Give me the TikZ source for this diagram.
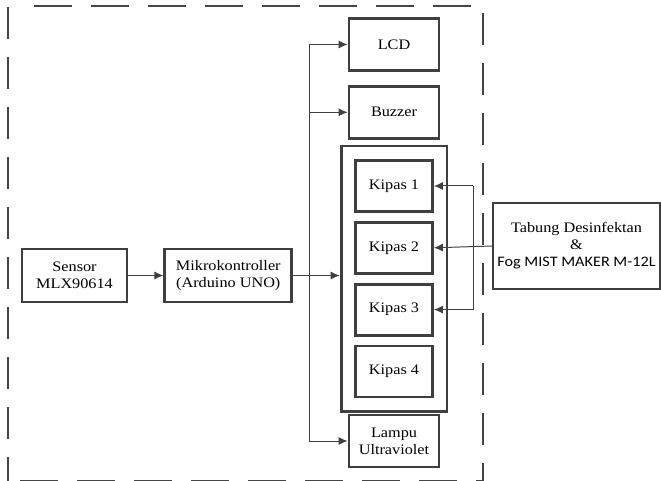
\documentclass[tikz,border=0pt]{standalone}
\usepackage{fontspec}
\setmainfont{Liberation Serif}[FakeStretch=1.12]
\newfontfamily\fogfont{Carlito}[FakeStretch=1.12]
\usetikzlibrary{
	positioning,
	arrows.meta,
	fit
}
\definecolor{boxcolor}{HTML}{3F3F3F}
\definecolor{linecolor}{HTML}{404040}
\definecolor{framecolor}{HTML}{454545}
\tikzset{
	blockbox/.style={
		draw=boxcolor,
		line width=2.8pt,
		minimum width=90pt,
		minimum height=52pt,
		inner sep=2pt,
		align=center,
		font=\fontsize{14.5}{17}\selectfont
	},
	kipasbox/.style={
		blockbox,
		minimum width=77pt,
		minimum height=51pt
	},
	groupbox/.style={
		draw=boxcolor,
		line width=2.8pt,
		inner sep=13pt
	},
	arrow/.style={
		-{Latex[length=9pt,width=8pt]},
		color=linecolor,
		line width=1pt
	},
	plainline/.style={
		color=linecolor,
		line width=1pt
	},
	framehoriz/.style={
		draw=framecolor,
		line width=2pt,
		dash pattern=on 38pt off 19pt
	},
	framevert/.style={
		draw=framecolor,
		line width=2pt,
		dash pattern=on 32pt off 18pt
	}
}

\begin{document}
\begin{tikzpicture}[x=1pt,y=-1pt,node distance=8pt and 35pt]
		\useasboundingbox (0,0) rectangle (661,481);
		
		% Frame of the system
		\draw[framehoriz] (34,6) -- (472,6);
		\draw[framevert] (8,7) -- (8,481);
		\draw[framevert] (483,13) -- (483,481);
		\draw[framehoriz] (20,480.5) -- (483,480.5);
		
		% Nodes
		% Left side: input
		\node[blockbox, minimum width=105pt, minimum height=53pt] (sensor) at (74.5,275.5)
		{Sensor\\MLX90614};
		\node[blockbox, minimum width=127pt, minimum height=53pt, right=of sensor] (mikro)
		{Mikrokontroller\\(Arduino UNO)};
		
		% Middle column: outputs
		\node[blockbox] (lcd) at (394,44.5) {LCD};
		\node[blockbox, below=13pt of lcd] (buzzer) {Buzzer};
		
		\node[kipasbox] (kipas1) at (394,186) {Kipas 1};
		\node[kipasbox, below=of kipas1] (kipas2) {Kipas 2};
		\node[kipasbox, below=of kipas2] (kipas3) {Kipas 3};
		\node[kipasbox, below=of kipas3] (kipas4) {Kipas 4};
		\node[groupbox, fit=(kipas1)(kipas4)] (kipasgroup) {};
		
		\node[blockbox] (lampu) at (394,441) {Lampu\\Ultraviolet};
		
		% Right side: disinfectant
		\node[blockbox, minimum width=167pt, minimum height=86pt, line width=2.4pt] (tabung) at (576.5,246)
		{Tabung Desinfektan\\\&\\{\fogfont Fog MIST MAKER M-12L}};
		
		% Bus coordinates
		\coordinate (bustop) at (309,0 |- lcd.west);
		\coordinate (busbot) at (309,0 |- lampu.west);
		\coordinate (tabjoin) at (473,0 |- tabung.west);
		
		% Arrows
		\draw[arrow] (sensor) -- (mikro);
		\draw[arrow] (mikro.east) -- (mikro.east -| kipasgroup.west);
		
		\draw[plainline] (bustop) -- (busbot);
		\draw[arrow] (bustop) -- (lcd.west);
		\draw[arrow] (bustop |- buzzer.west) -- (buzzer.west);
		\draw[arrow] (busbot) -- (lampu.west);
		
		% Tabung to fans
		\draw[arrow] (tabung.west) -- (kipas2.east);
		\draw[plainline] (tabjoin |- kipas1.east) -- (tabjoin |- kipas3.east);
		\draw[arrow] (tabjoin |- kipas1.east) -- (kipas1.east);
		\draw[arrow] (tabjoin |- kipas3.east) -- (kipas3.east);
		
	\end{tikzpicture}
\end{document}
